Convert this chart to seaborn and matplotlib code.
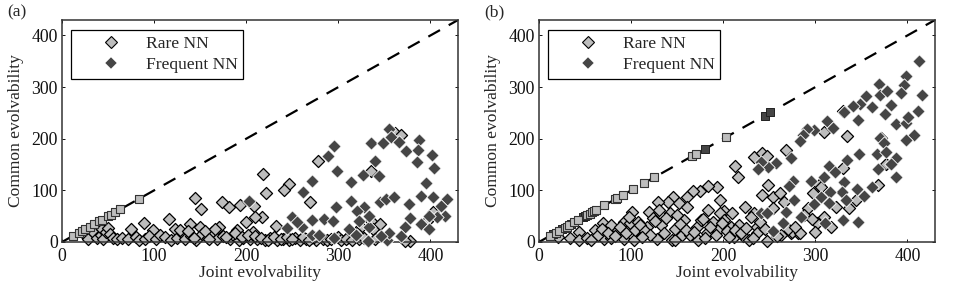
import matplotlib
matplotlib.use("Agg")
import matplotlib.pyplot as plt
import pandas as pd
import seaborn as sns

# panel (a)
a_freq_x = [355, 357, 336, 349, 366, 373, 388, 387, 386, 402, 404, 295, 289, 299, 340, 344, 327, 314, 271, 262,
            395, 314, 298, 345, 352, 360, 377, 390, 403, 418, 411, 416, 407, 398, 378, 390, 398, 372, 368, 353,
            355, 346, 333, 333, 328, 320, 323, 312, 319, 332, 284, 294, 271, 250, 244, 261, 271, 295, 203, 279, 255]
a_freq_y = [218, 204, 191, 191, 194, 176, 198, 178, 154, 169, 143, 185, 167, 137, 157, 128, 130, 117, 119, 96,
            114, 79, 68, 78, 83, 87, 74, 90, 88, 84, 70, 50, 48, 50, 46, 35, 25, 30, 12, 4,
            17, 12, 30, 51, 67, 61, 41, 26, 14, 2, 44, 41, 43, 49, 28, 30, 14, 7, 80, 14, 39]
a_rare_x = [144, 151, 174, 181, 89, 75, 116, 123, 99, 139, 150, 170, 190, 278, 218, 246, 241, 221, 269, 217,
            232, 208, 210, 200, 207, 193, 336, 378, 372, 362, 368, 325, 335, 338, 345, 300, 310, 320, 340, 396, 403,
            25, 28, 33, 35, 38, 42, 43, 45, 48, 50, 52, 55, 60, 65, 72, 80, 84, 90, 95, 102, 106, 112, 118, 125,
            130, 134, 140, 146, 152, 158, 163, 168, 175, 182, 186, 192, 197, 204, 212, 220, 226, 234, 240, 247,
            253, 258, 265, 270, 276, 283, 288, 292, 303, 308, 315, 322, 328,
            128, 137, 143, 155, 160, 166, 178, 188, 195, 202, 210, 216, 224, 230, 238, 244, 250, 262, 268, 274]
a_rare_y = [85, 64, 78, 67, 37, 26, 44, 26, 23, 35, 30, 30, 23, 156, 131, 112, 101, 94, 77, 49,
            31, 70, 49, 39, 20, 72, 138, 1, 2, 212, 207, 30, 40, 25, 35, 10, 8, 18, 5, 40, 58,
            14, 5, 28, 18, 8, 13, 25, 5, 20, 28, 15, 8, 6, 8, 6, 10, 4, 5, 12, 6, 14, 10, 4, 8,
            18, 6, 12, 4, 15, 7, 20, 5, 12, 6, 14, 4, 8, 5, 6, 4, 8, 3, 6, 4,
            7, 3, 5, 8, 4, 6, 3, 5, 4, 6, 3, 5, 8,
            24, 22, 8, 22, 6, 25, 10, 18, 10, 14, 12, 8, 3, 9, 5, 10, 6, 9, 3, 10]
a_sq_rare = [12, 18, 22, 25, 30, 35, 40, 43, 50, 53, 58, 63, 84]

# panel (b)
b_freq_x = [413, 416, 398, 396, 393, 369, 370, 378, 382, 376, 355, 362, 349, 341, 331, 346, 313, 319, 299, 291,
            287, 283, 388, 398, 411, 401, 407, 398, 370, 375, 347, 367, 377, 388, 382, 368, 388, 334, 315, 321,
            310, 331, 295, 276, 271, 274, 257, 249, 241, 238, 362, 353, 345, 329, 316, 306, 315, 333, 277, 268,
            285, 299, 311, 346, 330, 265, 254, 241, 248]
b_freq_y = [351, 285, 322, 304, 289, 306, 285, 293, 265, 247, 282, 262, 267, 264, 251, 236, 235, 220, 216, 218,
            207, 196, 229, 230, 253, 243, 207, 198, 202, 192, 170, 170, 174, 163, 152, 141, 125, 158, 147, 136,
            125, 117, 119, 119, 109, 162, 153, 146, 154, 141, 107, 89, 103, 96, 96, 87, 75, 81, 81, 59,
            48, 74, 37, 39, 43, 36, 22, 57, 56]
b_rare_x = [334, 268, 234, 242, 248, 213, 216, 242, 249, 254, 262, 266, 330, 310, 193, 196, 201, 210, 224, 234,
            254, 304, 297, 292, 281, 274, 302, 317, 322, 337, 344, 368, 330, 377, 371, 306,
            184, 183, 175, 167, 161, 145, 140, 129, 152, 161, 157, 101, 119, 142, 130, 70, 78, 61, 86, 92, 99, 108,
            124, 133, 117, 43, 21, 34, 43, 52, 56, 71, 78, 92, 103, 113, 128, 144, 148, 155, 164, 173, 182, 172,
            189, 197, 208, 201, 194, 212, 221, 228, 217, 237, 230, 237, 248, 263, 275, 283,
            64, 68, 75, 82, 88, 95, 104, 110, 115, 121, 126, 136, 138, 148, 153, 160, 168, 176, 180, 186, 192, 199,
            204, 206, 213, 219, 225, 232, 240, 245, 258, 270, 278, 288, 296, 300, 310, 98, 112, 150, 178]
b_rare_y = [205, 178, 165, 173, 167, 148, 125, 91, 110, 88, 94, 78, 253, 214, 107, 81, 61, 56, 67, 56,
            65, 110, 94, 65, 17, 17, 36, 30, 68, 65, 81, 110, 143, 152, 201, 107,
            62, 108, 99, 99, 87, 88, 78, 77, 75, 67, 43, 58, 59, 56, 62, 37, 33, 23, 23, 39, 36, 39,
            46, 33, 30, 20, 9, 7, 3, 7, 3, 6, 7, 6, 4, 14, 6, 3, 4, 14, 14, 3, 17, 30,
            39, 56, 30, 43, 23, 10, 12, 3, 33, 30, 49, 17, 1, 14, 20, 17,
            14, 25, 18, 12, 30, 17, 24, 32, 22, 14, 40, 18, 46, 26, 34, 24, 20, 42, 8, 30, 14, 36,
            22, 9, 24, 18, 27, 8, 38, 26, 12, 26, 30, 52, 45, 20, 48, 48, 10, 52, 44]
b_sq_rare = [12, 18, 22, 28, 30, 33, 38, 42, 52, 55, 58, 60, 62, 71, 83, 85, 91, 102, 114, 125, 166, 170, 203]
b_sq_freq = [15, 25, 35, 48, 50, 84, 180, 245, 251]

ticks = [0, 100, 200, 300, 400]
LIM = 430
LIGHT = "#bdbdbd"
DARK = "#454545"

sns.set_theme(style="ticks")
plt.rcParams["font.family"] = ["Liberation Serif", "DejaVu Serif"]


def panel(ax, letter, fx, fy, rx, ry, sq_rare, sq_freq):
    df_f = pd.DataFrame({"x": fx, "y": fy})
    df_r = pd.DataFrame({"x": rx, "y": ry})
    ax.plot([0, LIM], [0, LIM], color="black", lw=1.6, dashes=(6, 4.5), zorder=1)
    sns.scatterplot(data=df_f, x="x", y="y", marker="D", s=46, color=DARK, edgecolor="white",
                    linewidth=0.6, ax=ax, zorder=3, clip_on=False)
    sns.scatterplot(data=df_r, x="x", y="y", marker="D", s=38, color=LIGHT, edgecolor="black",
                    linewidth=0.9, ax=ax, zorder=2, clip_on=False)
    if sq_freq:
        sns.scatterplot(x=sq_freq, y=sq_freq, marker="s", s=30, color=DARK, edgecolor="#222222",
                        linewidth=0.7, ax=ax, zorder=2.5, clip_on=False)
    sns.scatterplot(x=sq_rare, y=sq_rare, marker="s", s=30, color=LIGHT, edgecolor="#333333",
                    linewidth=0.8, ax=ax, zorder=2.6, clip_on=False)

    ax.set_xlim(0, LIM)
    ax.set_ylim(0, LIM)
    ax.set_xticks(ticks)
    ax.set_yticks(ticks)
    ax.tick_params(direction="in", length=2.5, width=0.7, top=True, right=True,
                   labelsize=12.8, colors="#111111")
    ax.tick_params(axis="x", pad=4.5)
    ax.tick_params(axis="y", pad=3)
    ax.set_xlabel("Joint evolvability", fontsize=12.6, labelpad=-0.5)
    ax.set_ylabel("Common evolvability", fontsize=12.6, labelpad=5)
    for sp in ax.spines.values():
        sp.set_visible(True)
        sp.set_linewidth(1.1)
        sp.set_color("#333333")

    h1 = plt.Line2D([], [], ls="", marker="D", ms=6.4, mfc=LIGHT, mec="black", mew=0.8)
    h2 = plt.Line2D([], [], ls="", marker="D", ms=6.6, mfc=DARK, mec="white", mew=0.3)
    leg = ax.legend([h1, h2], ["Rare NN", "Frequent NN"], loc="upper left",
                    bbox_to_anchor=(0.0225, 0.955), borderaxespad=0, fontsize=12.6,
                    handlelength=3.95, handletextpad=0.0, labelspacing=0.28, borderpad=0.32,
                    fancybox=False, framealpha=1, edgecolor="black")
    leg.get_frame().set_linewidth(0.9)
    leg.set_zorder(5)
    ax.figure.text(ax.get_position().x0 - 55 / 954, 1 - 12 / 296, letter,
                   fontsize=12.6, va="center", ha="left")


fig = plt.figure(figsize=(9.54, 2.96), dpi=100)
ax1 = fig.add_axes([62 / 954, 1 - 242 / 296, 396 / 954, 222 / 296])
ax2 = fig.add_axes([539 / 954, 1 - 242 / 296, 396 / 954, 222 / 296])
panel(ax1, "(a)", a_freq_x, a_freq_y, a_rare_x, a_rare_y, a_sq_rare, [])
panel(ax2, "(b)", b_freq_x, b_freq_y, b_rare_x, b_rare_y, b_sq_rare, b_sq_freq)
fig.savefig("out.png", dpi=100)
